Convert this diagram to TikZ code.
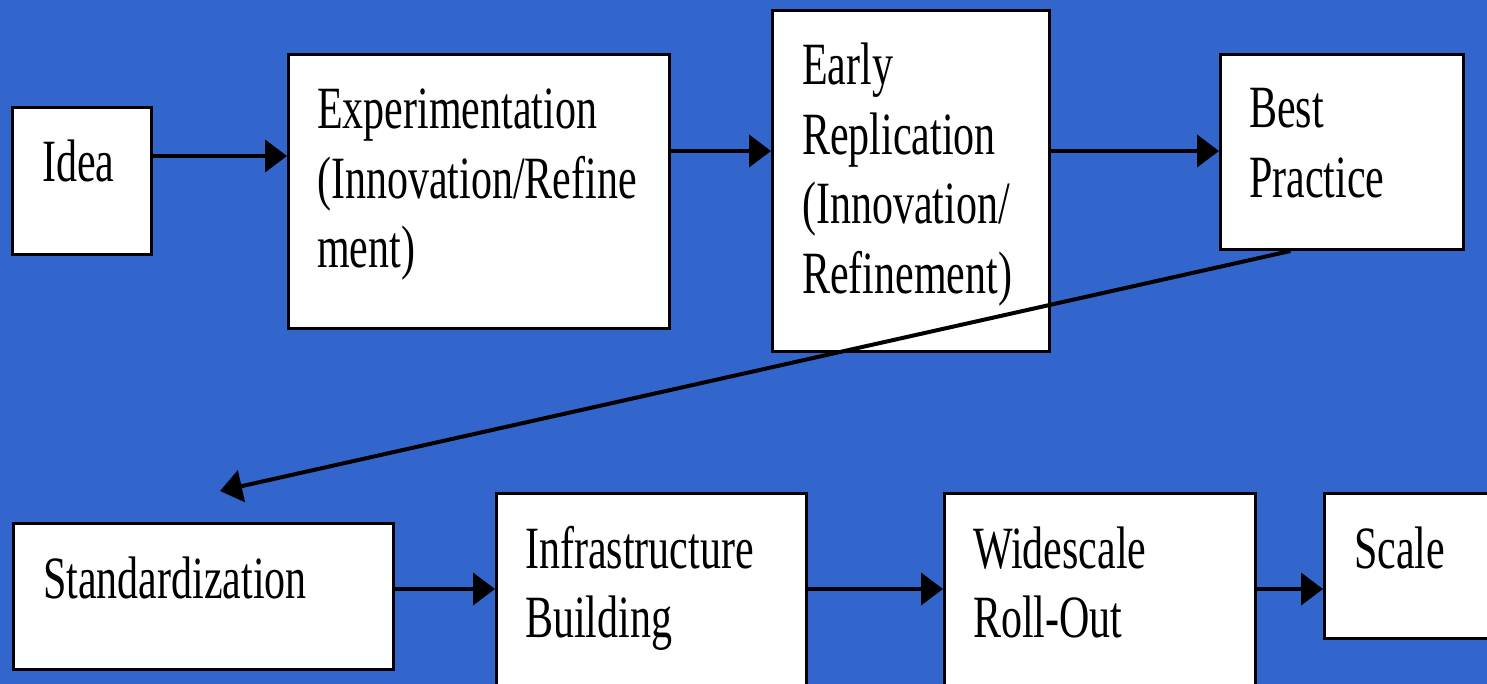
\documentclass[tikz,border=0pt]{standalone}
\usepackage{fontspec}
\setmainfont{Liberation Serif}[FakeStretch=0.70]
\usetikzlibrary{arrows.meta,calc}
\definecolor{slideblue}{RGB}{51,102,204}
\begin{document}
\begin{tikzpicture}[x=1pt,y=-1pt,
  stage/.style={draw=black, line width=3pt, fill=white, rectangle,
    inner sep=0pt, anchor=north west},
  stagetext/.style={anchor=base west, inner sep=0pt, align=left,
    text width=420pt, font=\fontsize{60}{69.5}\selectfont},
  flow/.style={line width=4pt, -{Triangle[length=22pt,width=32pt]}}]

% slide background
\useasboundingbox (0,0) rectangle (1487,684);
\fill[slideblue] (0,0) rectangle (1487,684);
\clip (0,0) rectangle (1487,684);

% upper row of stages
\node[stage, minimum width=139pt, minimum height=147pt] (idea)  at (11,106) {};
\node[stage, minimum width=381pt, minimum height=274pt] (exp)   at (287,53) {};
\node[stage, minimum width=277pt, minimum height=341pt] (early) at (771,9)  {};
\node[stage, minimum width=243pt, minimum height=195pt] (best)  at (1219,53) {};

% lower row of stages
\node[stage, minimum width=380pt, minimum height=146pt] (std)   at (12,522)  {};
\node[stage, minimum width=310pt, minimum height=230pt] (infra) at (495,492) {};
\node[stage, minimum width=311pt, minimum height=230pt] (wide)  at (943,492) {};
\node[stage, minimum width=200pt, minimum height=145pt] (scale) at (1323,492) {};

% stage captions
\node[stagetext] (ideatxt)  at ($(idea.north west)+(31,76)$)  {Idea};
\node[stagetext] (exptxt)   at ($(exp.north west)+(30,76)$)   {Experimentation\\(Innovation/Refine\\ment)};
\node[stagetext] (earlytxt) at ($(early.north west)+(31,76)$) {Early\\Replication\\(Innovation/\\Refinement)};
\node[stagetext] (besttxt)  at ($(best.north west)+(30,75)$)  {Best\\Practice};
\node[stagetext] (stdtxt)   at ($(std.north west)+(31,76)$)   {Standardization};
\node[stagetext] (infratxt) at ($(infra.north west)+(30,76)$) {Infrastructure\\Building};
\node[stagetext] (widetxt)  at ($(wide.north west)+(30,76)$)  {Widescale\\Roll-Out};
\node[stagetext] (scaletxt) at ($(scale.north west)+(31,76)$) {Scale};

% connectors, upper row
\draw[flow] (idea.east |- 0,156) -- (exp.west |- 0,156);
\draw[flow] (exp.east |- 0,151)  -- (early.west |- 0,151);
\draw[flow] (early.east |- 0,151) -- (best.west |- 0,151);

% return connector down to the lower row
\coordinate (bpfoot) at ($(best.south west)!0.29!(best.south east)$);
\coordinate (stdtip) at (220,491);
\draw[flow] (bpfoot) -- (stdtip);

% connectors, lower row
\draw[flow] (std.east |- 0,589)   -- (infra.west |- 0,589);
\draw[flow] (infra.east |- 0,589) -- (wide.west |- 0,589);
\draw[flow] (wide.east |- 0,589)  -- (scale.west |- 0,589);
\end{tikzpicture}
\end{document}
